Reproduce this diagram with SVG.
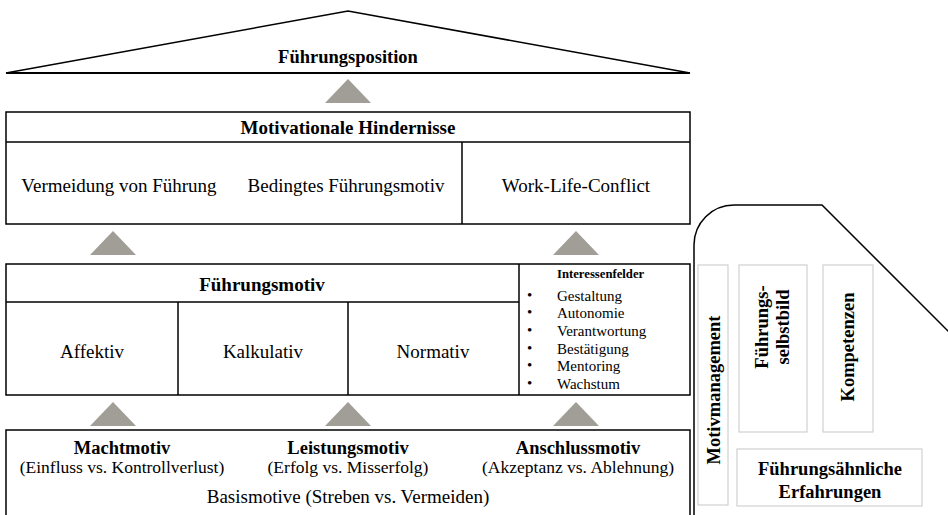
<svg xmlns="http://www.w3.org/2000/svg" width="948" height="515" viewBox="0 0 948 515">
<style>
.b{fill:#fff;stroke:#000;stroke-width:1.5}
.ln{stroke:#000;stroke-width:1.5;fill:none}
.gb{fill:#fff;stroke:#d0d0d0;stroke-width:1.2}
.tri{fill:#a09e97}
text{font-family:"Liberation Serif","Times New Roman",serif;fill:#000;text-anchor:middle}
.bd{font-weight:bold}
.t19{font-size:19px}
.t18{font-size:18.5px}
.t17{font-size:17.5px}
.sm{font-size:15px;text-anchor:start}
</style>
<rect width="948" height="515" fill="#fff"/>
<g id="roof">
<polygon points="6,73 348,11 690,73" fill="#fff" stroke="#000" stroke-width="1.5"/>
<line x1="6" y1="73" x2="690" y2="73" stroke="#000" stroke-width="2"/>
<text x="348" y="63" class="bd t18">Führungsposition</text>
</g>
<g id="connectors">
<polygon class="tri" points="348,79 371,103 325,103"/>
<polygon class="tri" points="113,231 136,255 90,255"/>
<polygon class="tri" points="576,231 599,255 553,255"/>
<polygon class="tri" points="113,402 136,426 90,426"/>
<polygon class="tri" points="348,402 371,426 325,426"/>
<polygon class="tri" points="576,402 599,426 553,426"/>
</g>
<g id="hindernisse">
<rect class="b" x="6" y="112" width="684" height="112"/>
<line class="ln" x1="6" y1="142" x2="690" y2="142"/>
<line class="ln" x1="462" y1="142" x2="462" y2="224"/>
<text x="348" y="134" class="bd t19">Motivationale Hindernisse</text>
<text x="119" y="192" class="t19">Vermeidung von Führung</text>
<text x="346" y="192" class="t19">Bedingtes Führungsmotiv</text>
<text x="576" y="192" class="t19">Work-Life-Conflict</text>
</g>
<g id="fuehrungsmotiv">
<rect class="b" x="6" y="264" width="684" height="131"/>
<line class="ln" x1="6" y1="302" x2="519" y2="302"/>
<line class="ln" x1="178" y1="302" x2="178" y2="395"/>
<line class="ln" x1="348" y1="302" x2="348" y2="395"/>
<line class="ln" x1="519" y1="264" x2="519" y2="395"/>
<text x="262" y="291" class="bd t19">Führungsmotiv</text>
<text x="92" y="358" class="t19">Affektiv</text>
<text x="263" y="358" class="t19">Kalkulativ</text>
<text x="433" y="358" class="t19">Normativ</text>
</g>
<g id="interessenfelder">
<text x="557" y="278" class="bd" style="font-size:12.7px;text-anchor:start">Interessenfelder</text>
<text x="527" y="300" class="sm">•</text><text x="557" y="301" class="sm">Gestaltung</text>
<text x="527" y="317" class="sm">•</text><text x="557" y="318" class="sm">Autonomie</text>
<text x="527" y="335" class="sm">•</text><text x="557" y="336" class="sm">Verantwortung</text>
<text x="527" y="353" class="sm">•</text><text x="557" y="354" class="sm">Bestätigung</text>
<text x="527" y="370" class="sm">•</text><text x="557" y="371" class="sm">Mentoring</text>
<text x="527" y="388" class="sm">•</text><text x="557" y="389" class="sm">Wachstum</text>
</g>
<g id="basismotive">
<rect class="b" x="6" y="430" width="684" height="95"/>
<text x="122" y="454" class="bd t18">Machtmotiv</text>
<text x="122" y="473" class="t17">(Einfluss vs. Kontrollverlust)</text>
<text x="348" y="454" class="bd t18">Leistungsmotiv</text>
<text x="348" y="473" class="t17">(Erfolg vs. Misserfolg)</text>
<text x="578" y="454" class="bd t18">Anschlussmotiv</text>
<text x="578" y="473" class="t17">(Akzeptanz vs. Ablehnung)</text>
<text x="348" y="503" class="t19">Basismotive (Streben vs. Vermeiden)</text>
</g>
<g id="panel">
<path class="ln" d="M694,520 L694,245 A40,40 0 0 1 734,205 L822,205 L950,333"/>
</g>
<g id="motivmanagement">
<rect class="gb" x="698" y="265" width="30" height="240"/>
<text transform="translate(720,390) rotate(-90)" class="bd t18">Motivmanagement</text>
</g>
<g id="selbstbild">
<rect class="gb" x="739" y="265" width="68" height="167"/>
<text transform="translate(779,327) rotate(-90)" class="bd t18"><tspan x="0" y="-11">Führungs-</tspan><tspan x="0" y="10">selbstbild</tspan></text>
</g>
<g id="kompetenzen">
<rect class="gb" x="823" y="265" width="50" height="167"/>
<text transform="translate(854,347) rotate(-90)" class="bd t18">Kompetenzen</text>
</g>
<g id="erfahrungen">
<rect class="gb" x="737" y="449" width="185" height="57"/>
<text x="830" y="475" class="bd t18">Führungsähnliche</text>
<text x="830" y="498" class="bd t18">Erfahrungen</text>
</g>
</svg>
